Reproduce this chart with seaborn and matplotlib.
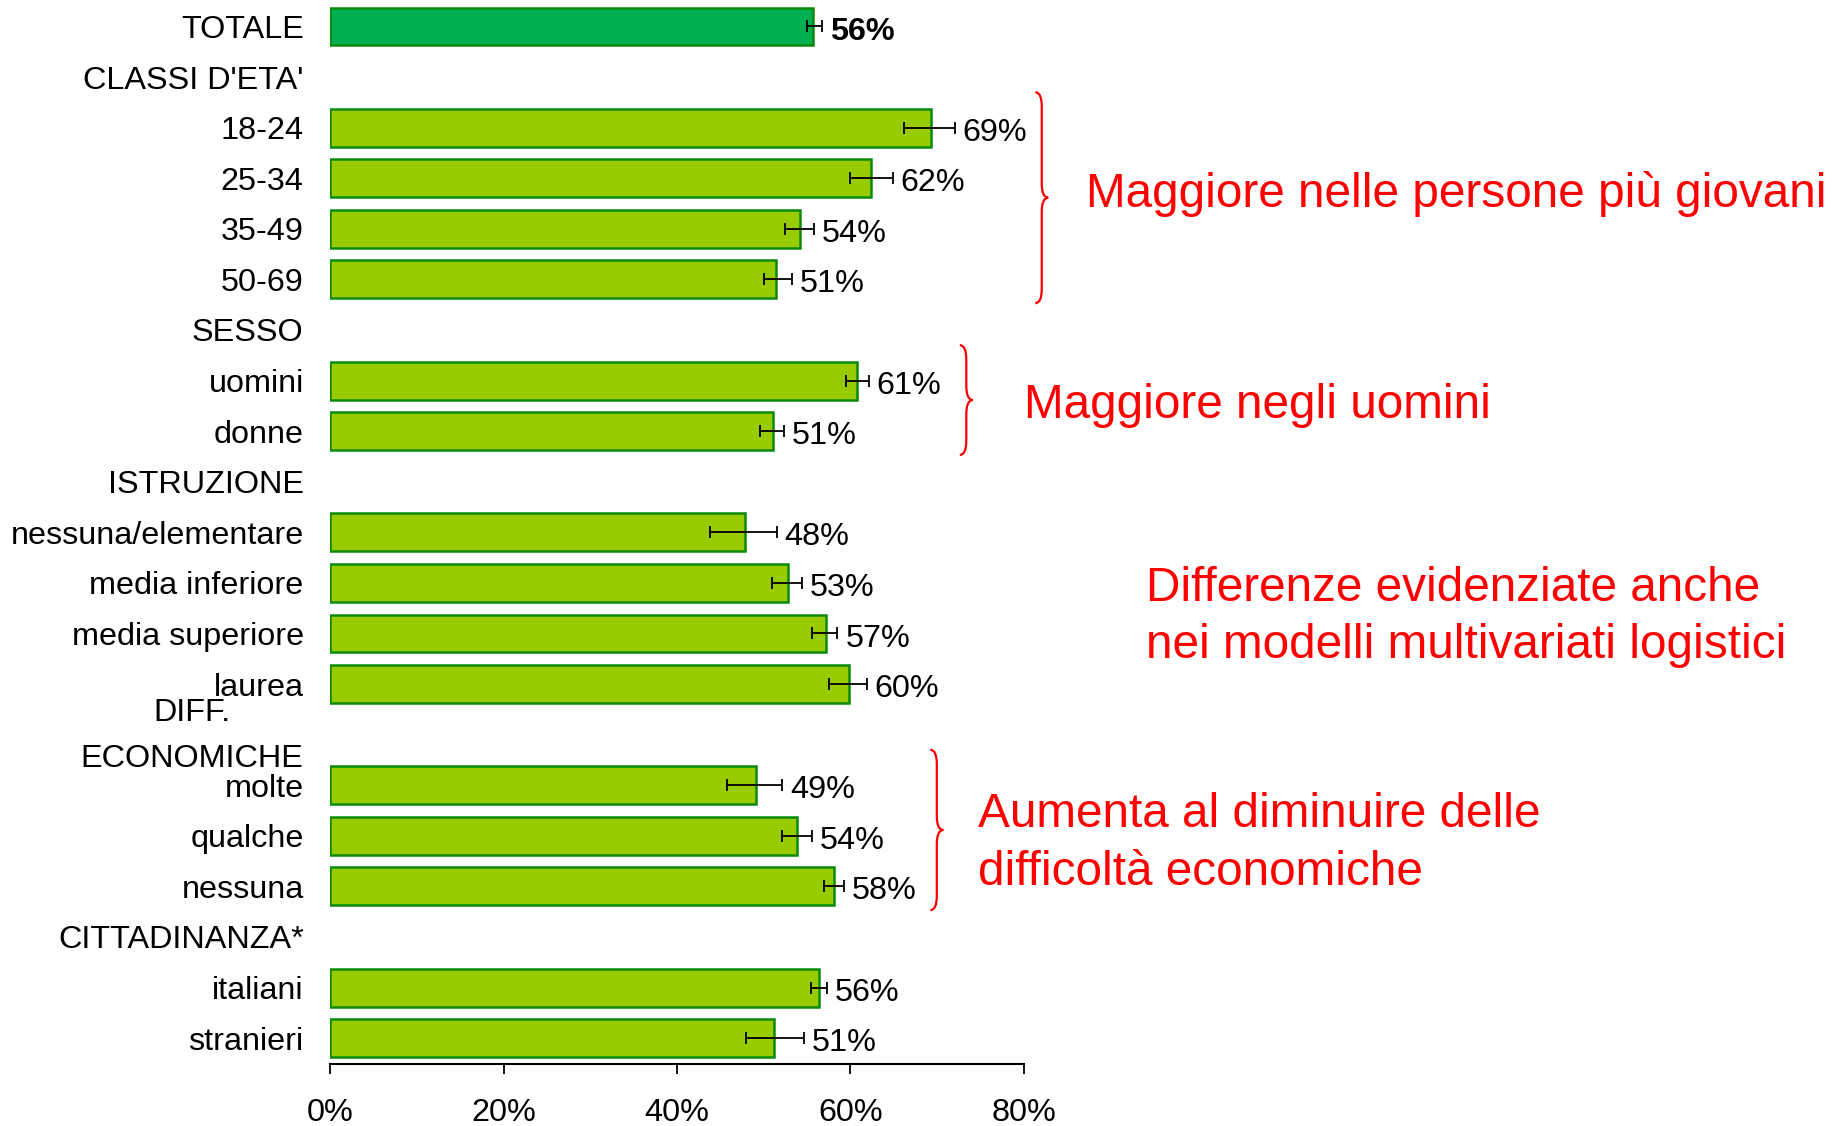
import numpy as np
import pandas as pd
import matplotlib
matplotlib.use('Agg')
import matplotlib.pyplot as plt
from matplotlib.path import Path
from matplotlib.patches import PathPatch
import seaborn as sns

# --- dati ---------------------------------------------------------------
row_order = ['TOTALE', "CLASSI D'ETA'", '18-24', '25-34', '35-49', '50-69',
             'SESSO', 'uomini', 'donne',
             'ISTRUZIONE', 'nessuna/elementare', 'media inferiore',
             'media superiore', 'laurea',
             'DIFF.\nECONOMICHE', 'molte', 'qualche', 'nessuna',
             'CITTADINANZA*', 'italiani', 'stranieri']
bar_labels = ['TOTALE', '18-24', '25-34', '35-49', '50-69',
              'uomini', 'donne',
              'nessuna/elementare', 'media inferiore', 'media superiore', 'laurea',
              'molte', 'qualche', 'nessuna',
              'italiani', 'stranieri']
bar_values = [55.7, 69.3, 62.4, 54.2, 51.4,
              60.8, 51.1,
              47.8, 52.8, 57.2, 59.8,
              49.1, 53.8, 58.1,
              56.4, 51.2]
ci_low = [55.0, 66.2, 60.0, 52.5, 50.0,
          59.5, 49.6,
          43.8, 50.9, 55.6, 57.5,
          45.8, 52.1, 56.9,
          55.4, 48.0]
ci_high = [56.7, 72.0, 64.9, 55.8, 53.2,
           62.1, 52.3,
           51.5, 54.4, 58.5, 61.9,
           52.1, 55.6, 59.2,
           57.3, 54.6]
x_ticks = [0, 20, 40, 60, 80]

# annotazioni (gruppi con parentesi graffa)
note_texts = ['Maggiore nelle persone più giovani',
              'Maggiore negli uomini',
              'Differenze evidenziate anche\nnei modelli multivariati logistici',
              'Aumenta al diminuire delle\ndifficoltà economiche']
brace_groups = [('18-24', '50-69'), ('uomini', 'donne'), None, ('molte', 'nessuna')]

# --- stile --------------------------------------------------------------
sns.set_style('white')
plt.rcParams['font.family'] = ['Liberation Sans', 'DejaVu Sans']
plt.rcParams.update({'text.color': 'black', 'xtick.color': 'black',
                     'ytick.color': 'black', 'axes.labelcolor': 'black'})

col_total = '#00B050'
col_bar = '#99CC00'
col_edge = '#0A8A0A'
col_note = '#FF0000'

df = pd.DataFrame({'gruppo': bar_labels, 'valore': bar_values})
palette = {lab: (col_total if lab == 'TOTALE' else col_bar) for lab in bar_labels}

fig = plt.figure(figsize=(18.47, 11.26), dpi=100)
ax = fig.add_axes([0.1787, 0.0551, 0.3757, 0.9443])

sns.barplot(data=df, x='valore', y='gruppo', hue='gruppo', order=row_order,
            palette=palette, saturation=1, legend=False, width=0.75,
            edgecolor=col_edge, linewidth=1.8, errorbar=None, ax=ax)

# intervalli di confidenza
ypos = [row_order.index(lab) for lab in bar_labels]
vals = np.array(bar_values)
xerr = np.vstack([vals - np.array(ci_low), np.array(ci_high) - vals])
ax.errorbar(vals, ypos, xerr=xerr, fmt='none', ecolor='black',
            elinewidth=1.3, capsize=4, capthick=1.3, zorder=5)

# etichette valori
for lab, v, hi, y in zip(bar_labels, bar_values, ci_high, ypos):
    ax.text(hi + 0.9, y + 0.1, f'{round(v):d}%', va='center', ha='left',
            fontsize=23.3, fontweight='bold' if lab == 'TOTALE' else 'normal')

# assi
ax.set_xlim(0, 80)
ax.set_ylim(20.51, -0.51)
ax.set_xticks(x_ticks)
ax.set_xticklabels([f'{t}%' for t in x_ticks])
ax.set_xlabel('')
ax.set_ylabel('')
for s in ['top', 'right', 'left']:
    ax.spines[s].set_visible(False)
ax.spines['bottom'].set_color('black')
ax.spines['bottom'].set_linewidth(1.5)
ax.tick_params(axis='x', direction='out', length=7, width=1.3, color='black',
               labelsize=23.3, pad=17.5, bottom=True)
ax.tick_params(axis='y', length=0, labelsize=23.3, pad=19)

# etichetta su due righe: centrata sulla propria riga
ylabels = [('' if '\n' in lab else lab) for lab in row_order]
ax.set_yticks(range(len(row_order)))
ax.set_yticklabels(ylabels)
for i, lab in enumerate(row_order):
    if '\n' in lab:
        ax.annotate(lab, xy=(0, i), xycoords=('axes fraction', 'data'),
                    xytext=(-19, -1), textcoords='offset points',
                    ha='right', va='center', multialignment='center',
                    linespacing=1.68, fontsize=23.3)


# parentesi graffe
def brace(ax, x0, y0, y1, w, c=0.28):
    ym = (y0 + y1) / 2
    xl = x0 + w * 0.5
    xt = x0 + w
    verts = [(x0, y0), (xl, y0), (xl, y0 + c), (xl, ym - c), (xl, ym), (xt, ym),
             (xl, ym), (xl, ym + c), (xl, y1 - c), (xl, y1), (x0, y1)]
    codes = [Path.MOVETO, Path.CURVE3, Path.CURVE3, Path.LINETO, Path.CURVE3,
             Path.CURVE3, Path.CURVE3, Path.CURVE3, Path.LINETO, Path.CURVE3,
             Path.CURVE3]
    ax.add_patch(PathPatch(Path(verts, codes), fill=False, edgecolor=col_note,
                           linewidth=1.6, clip_on=False))


brace_x = [81.3, 72.6, None, 69.2]
note_pos = [(87.1, 3.32), (80.0, 7.49), (94.1, 11.67), (74.75, 16.15)]
for grp, bx, txt, (tx, ty) in zip(brace_groups, brace_x, note_texts, note_pos):
    if grp is not None:
        y0 = row_order.index(grp[0]) - 0.7
        y1 = row_order.index(grp[1]) + 0.47
        brace(ax, bx, y0, y1, 1.5)
    ax.text(tx, ty, txt, color=col_note, fontsize=34.4, ha='left', va='center',
            linespacing=1.35, clip_on=False)

fig.savefig('out.png', dpi=100)
